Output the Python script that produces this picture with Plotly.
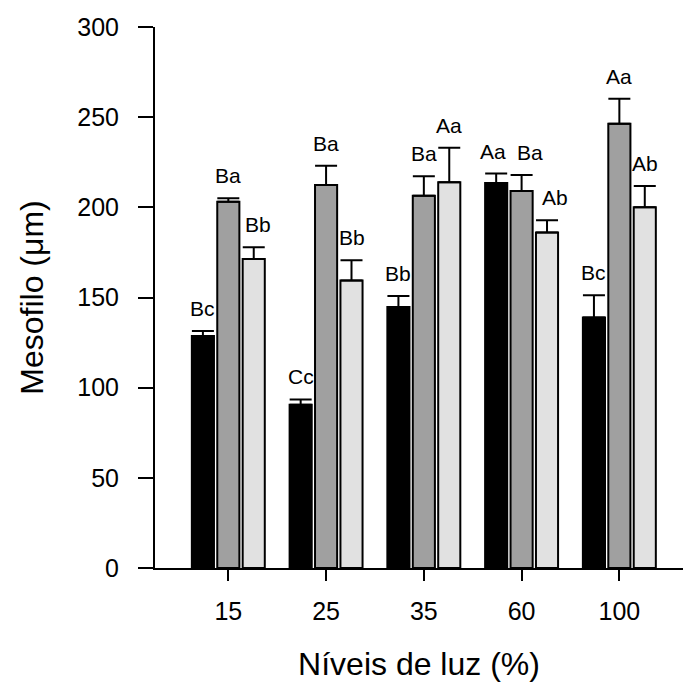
import plotly.graph_objects as go

levels = ['15', '25', '35', '60', '100']
mean_black = [128.7, 90.5, 144.8, 213.5, 138.9]
err_black = [2.7, 3.0, 6.1, 5.2, 12.4]
mean_gray = [203.1, 212.4, 206.4, 209.1, 246.3]
err_gray = [2.0, 10.7, 10.8, 8.8, 13.9]
mean_light = [171.4, 159.4, 213.9, 186.1, 200.0]
err_light = [6.4, 11.2, 19.1, 6.7, 11.8]
lab_black = ['Bc', 'Cc', 'Bb', 'Aa', 'Bc']
lab_gray = ['Ba', 'Ba', 'Ba', 'Ba', 'Aa']
lab_light = ['Bb', 'Bb', 'Aa', 'Ab', 'Ab']

FONT = "Liberation Sans, Arial, sans-serif"
BARGAP = 0.22
BARGROUPGAP = 0.13
xpos = list(range(len(levels)))

series = [
    (mean_black, err_black, lab_black, '#000000'),
    (mean_gray, err_gray, lab_gray, '#a0a0a0'),
    (mean_light, err_light, lab_light, '#e1e1e1'),
]

# small horizontal nudges for crowded labels (series index, category index) -> px
label_nudge = {(1, 3): 8, (2, 3): 8, (0, 3): -3, (2, 0): 4}

fig = go.Figure()
slot = (1 - BARGAP) / 3
offsets = [-slot, 0, slot]
annotations = []
for k, (means, errs, labs, color) in enumerate(series):
    fig.add_trace(go.Bar(
        x=xpos, y=means,
        marker=dict(color=color, line=dict(color='black', width=2)),
        error_y=dict(type='data', array=errs, arrayminus=[0] * len(errs),
                     symmetric=False, color='black', thickness=2, width=11),
        showlegend=False,
    ))
    for i, (m, e, t) in enumerate(zip(means, errs, labs)):
        annotations.append(dict(
            x=i + offsets[k], y=m + e, text=t, showarrow=False,
            xref='x', yref='y', yanchor='bottom', yshift=9,
            xshift=label_nudge.get((k, i), 0),
            font=dict(family=FONT, size=21, color='black'),
        ))

fig.update_layout(
    width=683, height=693,
    margin=dict(l=155, r=0, t=27, b=125),
    paper_bgcolor='white', plot_bgcolor='white',
    barmode='group', bargap=BARGAP, bargroupgap=BARGROUPGAP,
    annotations=annotations,
    font=dict(family=FONT, color='black'),
)
fig.update_xaxes(
    range=[-0.75, 4.651], tickvals=xpos, ticktext=levels,
    showline=True, linecolor='black', linewidth=2,
    ticks='outside', ticklen=11, tickwidth=2, tickcolor='black',
    showgrid=False, zeroline=False,
    tickfont=dict(family=FONT, size=25, color='black'),
    ticklabelstandoff=9,
    title=dict(text='Níveis de luz (%)', font=dict(family=FONT, size=32, color='black'), standoff=29),
)
fig.update_yaxes(
    range=[0, 300], tickvals=[0, 50, 100, 150, 200, 250, 300],
    showline=True, linecolor='black', linewidth=2,
    ticks='outside', ticklen=15, tickwidth=2, tickcolor='black',
    showgrid=False, zeroline=False,
    tickfont=dict(family=FONT, size=25, color='black'),
    ticklabelstandoff=14,
    title=dict(text='Mesofilo (μm)', font=dict(family=FONT, size=32, color='black'), standoff=24),
)

fig.write_html("out.html")
